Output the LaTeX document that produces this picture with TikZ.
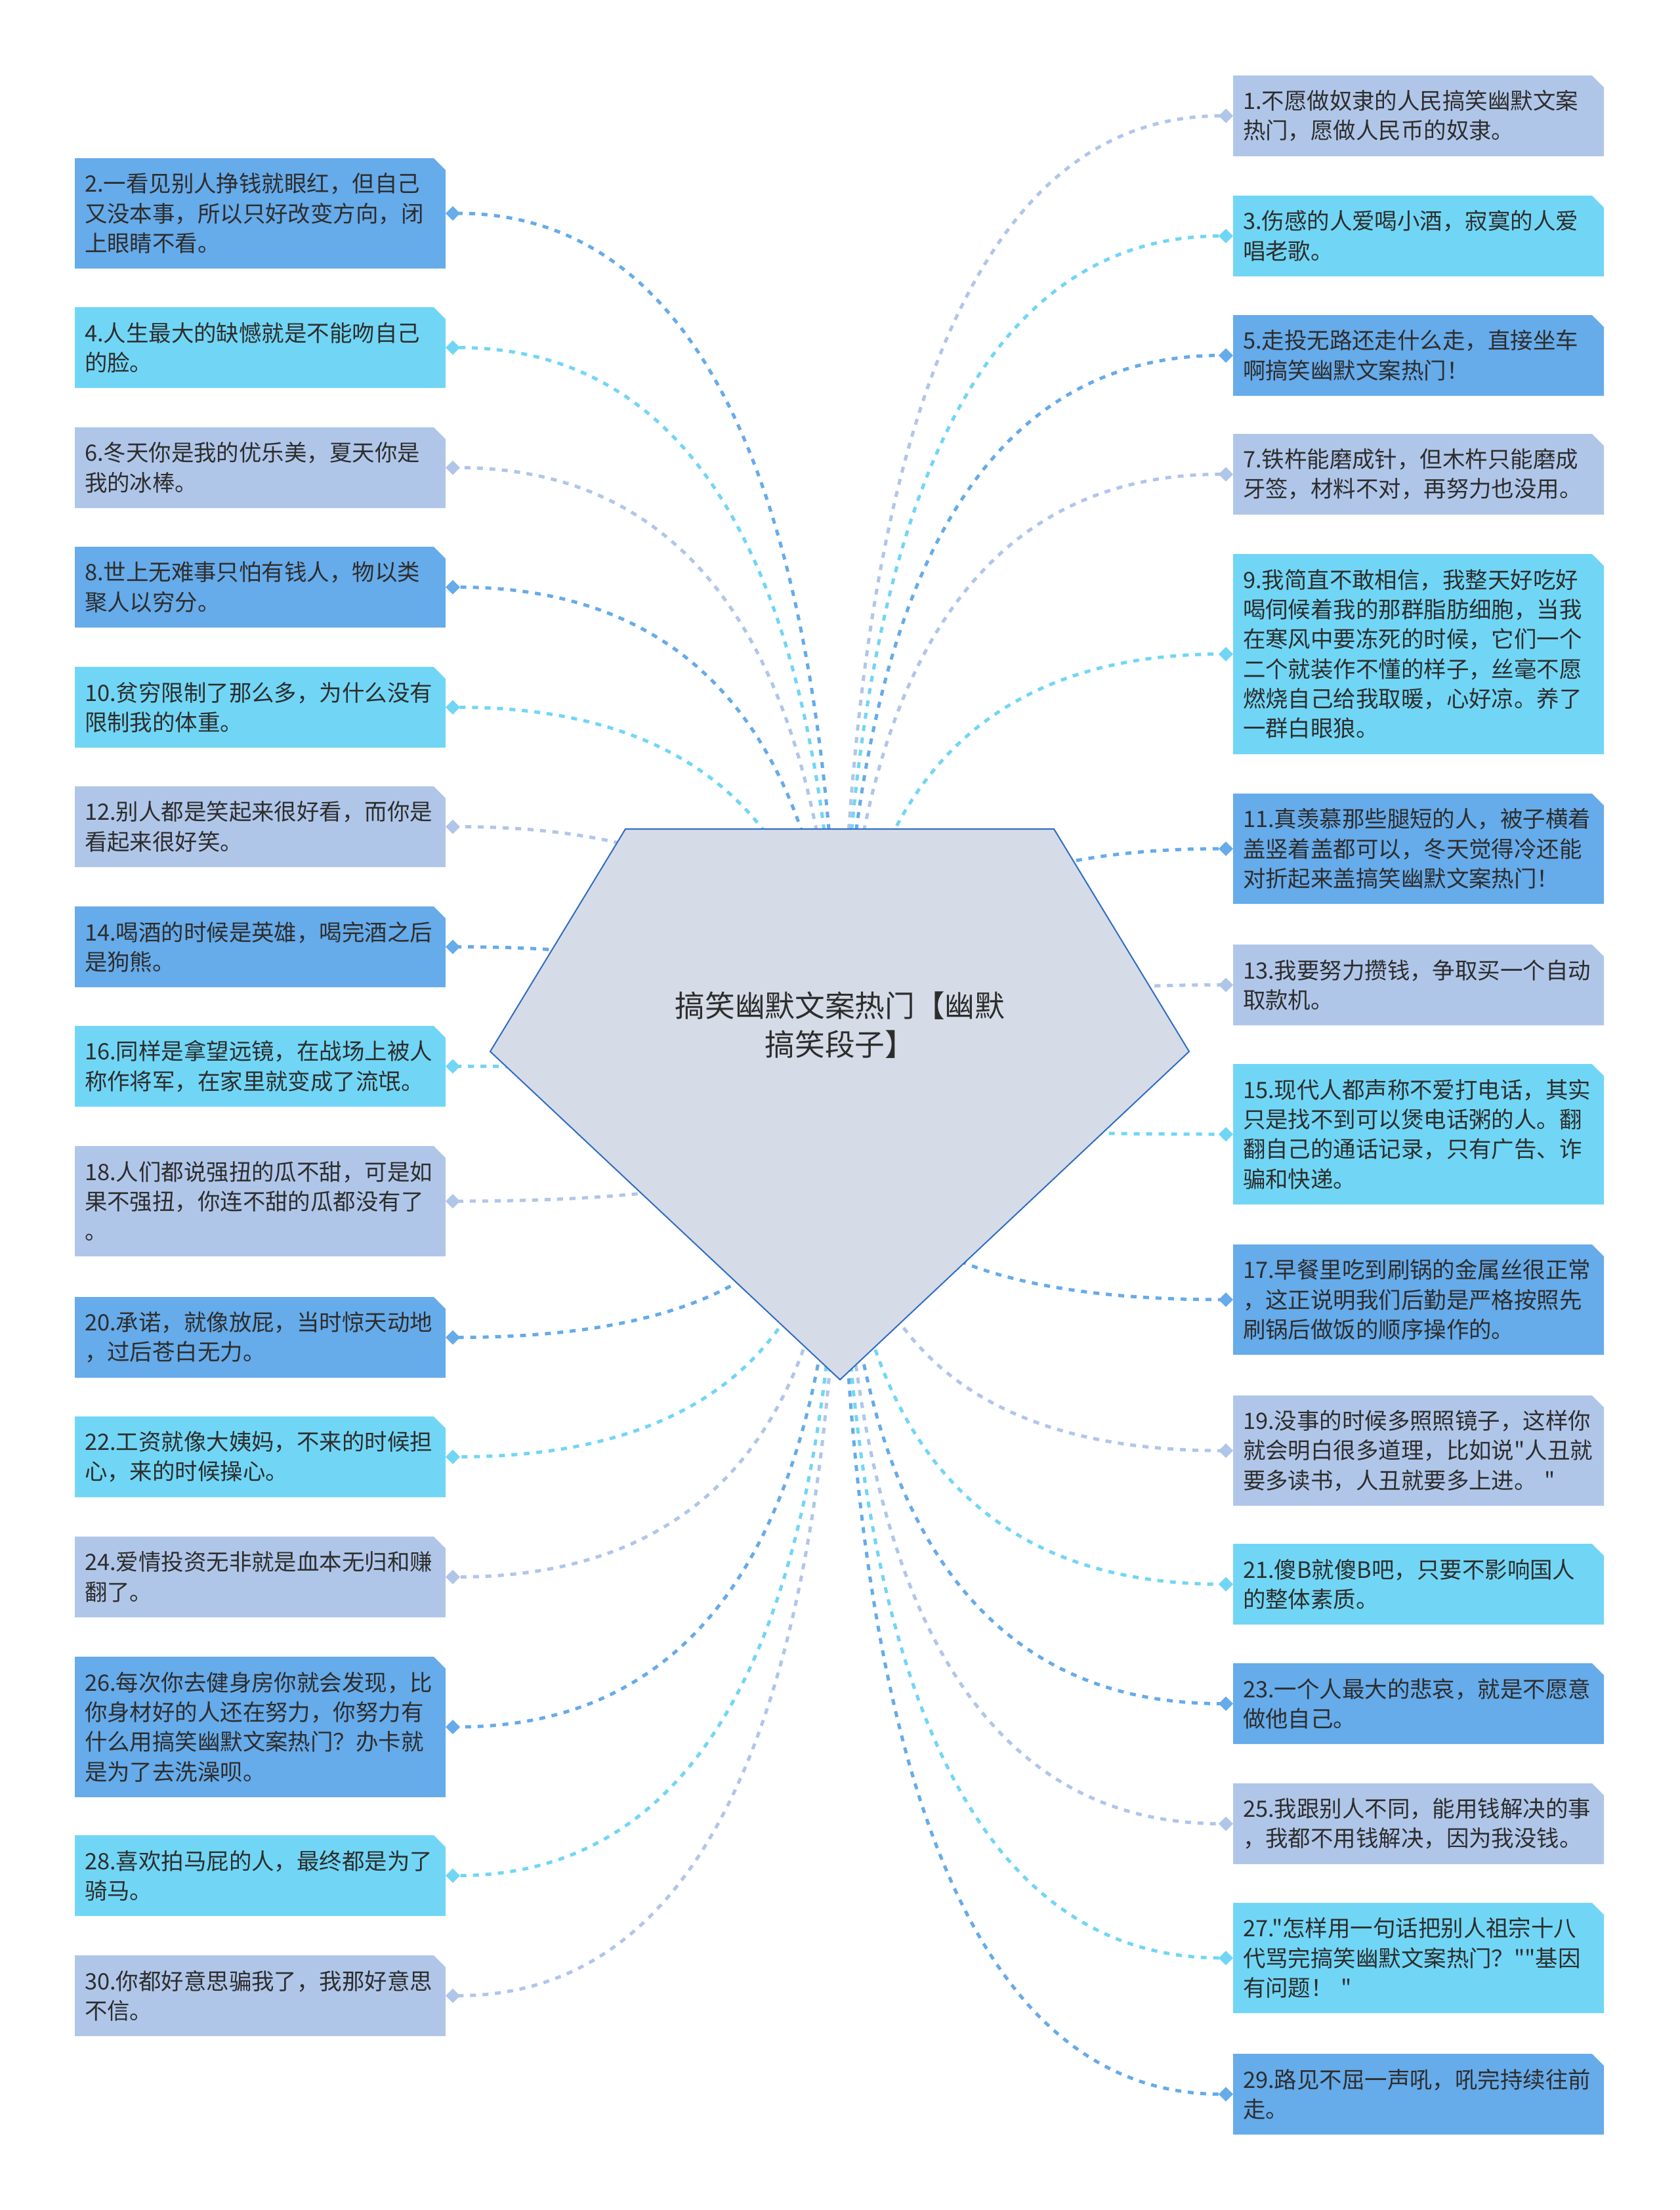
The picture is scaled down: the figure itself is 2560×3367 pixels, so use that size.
\documentclass[tikz,border=0pt]{standalone}
\usepackage{fontspec}
\setmainfont{Noto Sans CJK SC}[Ligatures=TeXOff]
\usepackage{xcolor}
\usepackage{tikz}
\usetikzlibrary{arrows.meta, backgrounds, calc}
\definecolor{jokelight}{RGB}{176,198,233}
\definecolor{jokecyan}{RGB}{113,214,245}
\definecolor{jokedeep}{RGB}{102,171,234}
\definecolor{hubfill}{RGB}{213,220,231}
\definecolor{hubline}{RGB}{47,108,196}
\definecolor{textgray}{RGB}{45,45,45}
\newcommand{\jokefont}{\fontsize{9.8pt}{12.9pt}\selectfont}
\newcommand{\titlefont}{\fontsize{13pt}{16.8pt}\selectfont}
\tikzset{
    jokebox/.style={rectangle, anchor=north west, minimum width=56.5mm,
                    text width=53.5mm, inner xsep=1.5mm, inner ysep=0pt,
                    outer sep=0pt, align=left, text=textgray, font=\jokefont},
    tworow/.style={jokebox, minimum height=12.3mm},
    threerow/.style={jokebox, minimum height=16.8mm},
    fourrow/.style={jokebox, minimum height=21.4mm},
    sixrow/.style={jokebox, minimum height=30.5mm},
    link/.style={line width=0.5mm, dash pattern=on 0.9mm off 1mm,
                 -{Diamond[length=2.2mm, width=2.2mm]}},
    hubshape/.style={fill=hubfill, draw=hubline, line width=0.2mm, line join=miter},
    titletext/.style={align=center, text=textgray, font=\titlefont},
}

\begin{document}
\begin{tikzpicture}[x=0.1mm, y=-0.1mm]
    \useasboundingbox (0,0) rectangle (2560,3367);
    % centre
    \draw[hubshape] (953,1263) -- (1606,1263) -- (1812,1602) -- (1280,2102) -- (747,1602) -- cycle;
    \coordinate (hub) at (1280,1682);
    \node[titletext] (root) at (1280,1562) {搞笑幽默文案热门【幽默\\搞笑段子】};
    % left column
    \node[threerow] (b2) at (114,241) {2.一看见别人挣钱就眼红，但自己\\又没本事，所以只好改变方向，闭\\上眼睛不看。};
    \node[tworow] (b4) at (114,468) {4.人生最大的缺憾就是不能吻自己\\的脸。};
    \node[tworow] (b6) at (114,651) {6.冬天你是我的优乐美，夏天你是\\我的冰棒。};
    \node[tworow] (b8) at (114,833) {8.世上无难事只怕有钱人，物以类\\聚人以穷分。};
    \node[tworow] (b10) at (114,1016) {10.贫穷限制了那么多，为什么没有\\限制我的体重。};
    \node[tworow] (b12) at (114,1198) {12.别人都是笑起来很好看，而你是\\看起来很好笑。};
    \node[tworow] (b14) at (114,1381) {14.喝酒的时候是英雄，喝完酒之后\\是狗熊。};
    \node[tworow] (b16) at (114,1563) {16.同样是拿望远镜，在战场上被人\\称作将军，在家里就变成了流氓。};
    \node[threerow] (b18) at (114,1746) {18.人们都说强扭的瓜不甜，可是如\\果不强扭，你连不甜的瓜都没有了\\。};
    \node[tworow] (b20) at (114,1976) {20.承诺，就像放屁，当时惊天动地\\，过后苍白无力。};
    \node[tworow] (b22) at (114,2158) {22.工资就像大姨妈，不来的时候担\\心，来的时候操心。};
    \node[tworow] (b24) at (114,2341) {24.爱情投资无非就是血本无归和赚\\翻了。};
    \node[fourrow] (b26) at (114,2524) {26.每次你去健身房你就会发现，比\\你身材好的人还在努力，你努力有\\什么用搞笑幽默文案热门？办卡就\\是为了去洗澡呗。};
    \node[tworow] (b28) at (114,2796) {28.喜欢拍马屁的人，最终都是为了\\骑马。};
    \node[tworow] (b30) at (114,2979) {30.你都好意思骗我了，我那好意思\\不信。};
    % right column
    \node[tworow] (b1) at (1879,115) {1.不愿做奴隶的人民搞笑幽默文案\\热门，愿做人民币的奴隶。};
    \node[tworow] (b3) at (1879,298) {3.伤感的人爱喝小酒，寂寞的人爱\\唱老歌。};
    \node[tworow] (b5) at (1879,480) {5.走投无路还走什么走，直接坐车\\啊搞笑幽默文案热门！};
    \node[tworow] (b7) at (1879,661) {7.铁杵能磨成针，但木杵只能磨成\\牙签，材料不对，再努力也没用。};
    \node[sixrow] (b9) at (1879,844) {9.我简直不敢相信，我整天好吃好\\喝伺候着我的那群脂肪细胞，当我\\在寒风中要冻死的时候，它们一个\\二个就装作不懂的样子，丝毫不愿\\燃烧自己给我取暖，心好凉。养了\\一群白眼狼。};
    \node[threerow] (b11) at (1879,1209) {11.真羡慕那些腿短的人，被子横着\\盖竖着盖都可以，冬天觉得冷还能\\对折起来盖搞笑幽默文案热门！};
    \node[tworow] (b13) at (1879,1439) {13.我要努力攒钱，争取买一个自动\\取款机。};
    \node[fourrow] (b15) at (1879,1621) {15.现代人都声称不爱打电话，其实\\只是找不到可以煲电话粥的人。翻\\翻自己的通话记录，只有广告、诈\\骗和快递。};
    \node[threerow] (b17) at (1879,1896) {17.早餐里吃到刷锅的金属丝很正常\\，这正说明我们后勤是严格按照先\\刷锅后做饭的顺序操作的。};
    \node[threerow] (b19) at (1879,2126) {19.没事的时候多照照镜子，这样你\\就会明白很多道理，比如说"人丑就\\要多读书，人丑就要多上进。 "};
    \node[tworow] (b21) at (1879,2352) {21.傻B就傻B吧，只要不影响国人\\的整体素质。};
    \node[tworow] (b23) at (1879,2534) {23.一个人最大的悲哀，就是不愿意\\做他自己。};
    \node[tworow] (b25) at (1879,2717) {25.我跟别人不同，能用钱解决的事\\，我都不用钱解决，因为我没钱。};
    \node[threerow] (b27) at (1879,2899) {27."怎样用一句话把别人祖宗十八\\代骂完搞笑幽默文案热门？""基因\\有问题！ "};
    \node[tworow] (b29) at (1879,3129) {29.路见不屈一声吼，吼完持续往前\\走。};
    \begin{scope}[on background layer]
        \fill[white] (0,0) rectangle (2560,3367);
        \foreach \n/\c in {1/jokelight, 2/jokedeep, 3/jokecyan, 4/jokecyan, 5/jokedeep, 6/jokelight,
                           7/jokelight, 8/jokedeep, 9/jokecyan, 10/jokecyan, 11/jokedeep, 12/jokelight,
                           13/jokelight, 14/jokedeep, 15/jokecyan, 16/jokecyan, 17/jokedeep, 18/jokelight,
                           19/jokelight, 20/jokedeep, 21/jokecyan, 22/jokecyan, 23/jokedeep, 24/jokelight,
                           25/jokelight, 26/jokedeep, 27/jokecyan, 28/jokecyan, 29/jokedeep, 30/jokelight} {
            \fill[\c] (b\n.south west) -- (b\n.north west) -- ([xshift=-1.8mm]b\n.north east)
                -- ([yshift=-1.8mm]b\n.north east) -- (b\n.south east) -- cycle;
        }
        \foreach \n/\c in {2/jokedeep, 4/jokecyan, 6/jokelight, 8/jokedeep, 10/jokecyan, 12/jokelight,
                           14/jokedeep, 16/jokecyan, 18/jokelight, 20/jokedeep, 22/jokecyan, 24/jokelight,
                           26/jokedeep, 28/jokecyan, 30/jokelight} {
            \draw[link, \c] (hub) .. controls ($(hub)!2/3!(hub |- b\n.east)$)
                and ($(b\n.east)!2/3!(hub |- b\n.east)$) .. (b\n.east);
        }
        \foreach \n/\c in {1/jokelight, 3/jokecyan, 5/jokedeep, 7/jokelight, 9/jokecyan, 11/jokedeep,
                           13/jokelight, 15/jokecyan, 17/jokedeep, 19/jokelight, 21/jokecyan, 23/jokedeep,
                           25/jokelight, 27/jokecyan, 29/jokedeep} {
            \draw[link, \c] (hub) .. controls ($(hub)!2/3!(hub |- b\n.west)$)
                and ($(b\n.west)!2/3!(hub |- b\n.west)$) .. (b\n.west);
        }
    \end{scope}
\end{tikzpicture}
\end{document}
